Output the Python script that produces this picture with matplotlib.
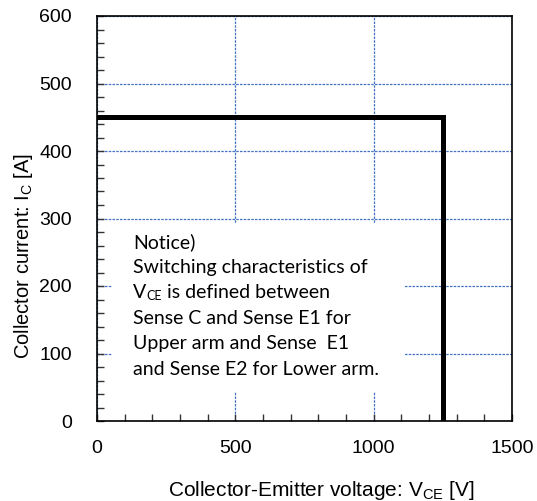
import matplotlib
matplotlib.use("Agg")
import matplotlib.pyplot as plt
from matplotlib.ticker import MultipleLocator
from matplotlib.patches import Rectangle

plt.rcParams['font.family'] = ['Liberation Sans', 'DejaVu Sans']
plt.rcParams['mathtext.fontset'] = 'custom'
plt.rcParams['mathtext.rm'] = 'Liberation Sans'
plt.rcParams['mathtext.it'] = 'Liberation Sans:italic'

# Data: RBSOA boundary
vce = [0, 1250, 1250]
ic = [450, 450, 0]

x_ticks = [0, 500, 1000, 1500]
y_ticks = [0, 100, 200, 300, 400, 500, 600]

note_lines = [
    "Notice)",
    "Switching characteristics of",
    None,  # V_CE line
    "Sense C and Sense E1 for",
    "Upper arm and Sense  E1",
    "and Sense E2 for Lower arm.",
]

W, H = 537, 501
fig = plt.figure(figsize=(W / 100, H / 100), dpi=100)
ax = fig.add_axes([97 / W, 1 - 421 / H, (512 - 97) / W, (421 - 16) / H])

ax.set_xlim(0, 1500)
ax.set_ylim(0, 600)
ax.set_xticks(x_ticks)
ax.set_yticks(y_ticks)
ax.xaxis.set_minor_locator(MultipleLocator(100))
ax.yaxis.set_minor_locator(MultipleLocator(20))
ax.tick_params(which='both', direction='in', length=5, width=1, color='#333333',
               top=False, right=False, labelsize=14)
ax.tick_params(axis='x', which='major', pad=14)
ax.tick_params(axis='y', which='major', pad=18)
for s in ax.spines.values():
    s.set_linewidth(1.2)
    s.set_color('black')

ax.grid(True, which='major', color='#4472C4', linestyle=(0, (2, 1)), linewidth=0.9)
ax.set_axisbelow(True)

ax.plot(vce, ic, color='black', linewidth=3.6, solid_joinstyle='miter', zorder=5)

# white note box covering grid
ax.add_patch(Rectangle((112 / W, 1 - 392 / H), (405 - 112) / W, (392 - 224) / H,
                       transform=fig.transFigure, facecolor='white', edgecolor='none',
                       zorder=1, clip_on=False))

note_font = ['Lato', 'DejaVu Sans']
fs = 14
x0 = 133
ys = [242, 267.5, 293, 318.5, 344, 369.5]
for line, yy in zip(note_lines, ys):
    yfig = 1 - yy / H
    if line is not None:
        fig.text(x0 / W, yfig, line, family=note_font, fontsize=fs, va='center', ha='left')
    else:
        t1 = fig.text(x0 / W, yfig, "V", family=note_font, fontsize=fs, va='center', ha='left')
        ce = ax.annotate("CE", xy=(1, 0), xycoords=t1, xytext=(0.3, -0.5), textcoords='offset points',
                         family=note_font, fontsize=9, va='bottom', ha='left')
        ax.annotate(" is defined between", xy=(1, 0), xycoords=(ce, t1), va='bottom', ha='left',
                    family=note_font, fontsize=fs)

fig.text(321 / W, 1 - 490 / H, r"Collector-Emitter voltage: V$_{\mathrm{CE}}$ [V]",
         fontsize=15, ha='center', va='center')
fig.text(24 / W, 1 - 256 / H, r"Collector current: I$_{\mathrm{C}}$ [A]",
         fontsize=14.5, ha='center', va='center', rotation=90)

fig.savefig("out.png", dpi=100)
